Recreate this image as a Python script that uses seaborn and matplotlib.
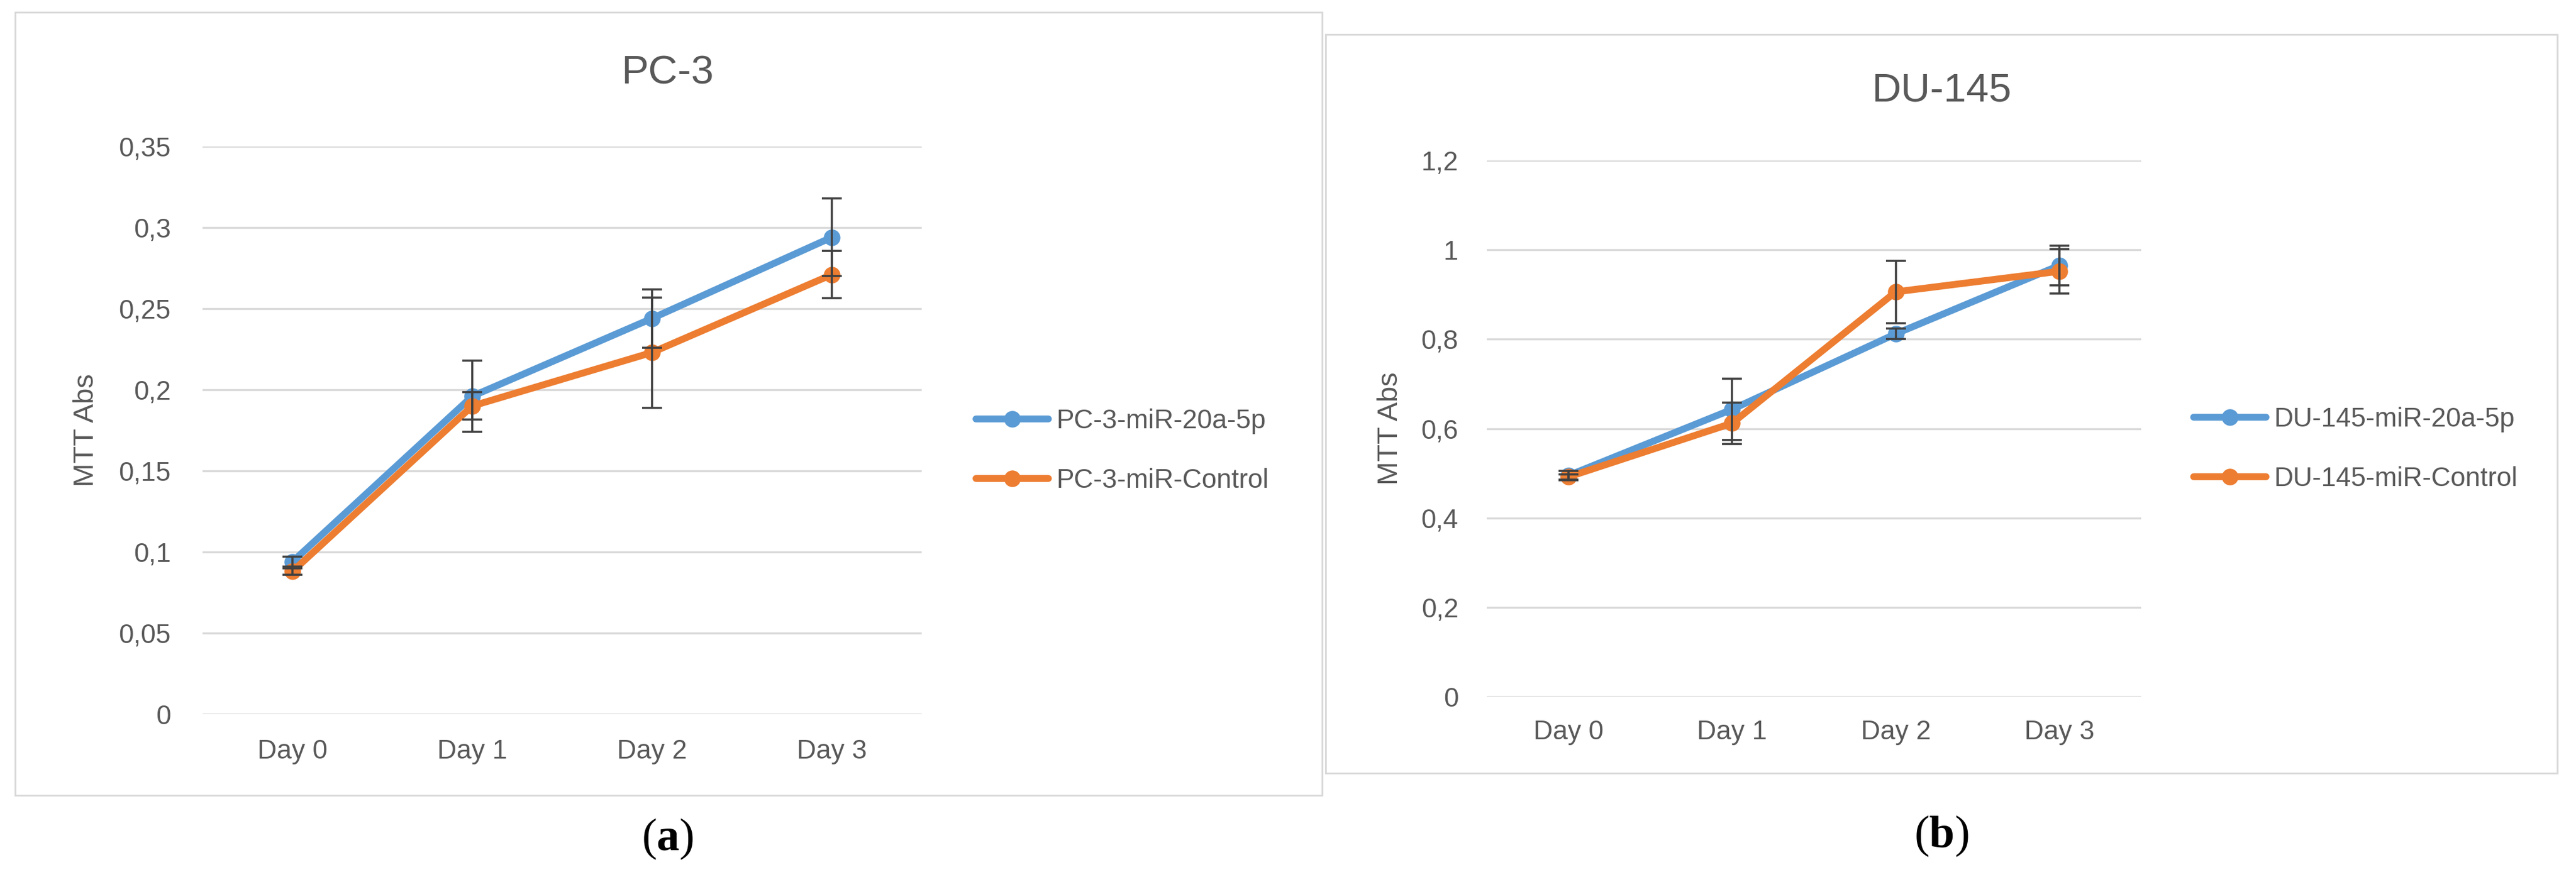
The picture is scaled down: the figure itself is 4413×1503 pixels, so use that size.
import numpy as np
import pandas as pd
import matplotlib
matplotlib.use("Agg")
import matplotlib.pyplot as plt
import seaborn as sns
from matplotlib.patches import Rectangle

# ---------------- data ----------------
days = ["Day 0", "Day 1", "Day 2", "Day 3"]

pc3_names = ["PC-3-miR-20a-5p", "PC-3-miR-Control"]
pc3_mir20a = [0.094, 0.196, 0.244, 0.294]
pc3_mir20a_err = [0.003, 0.022, 0.018, 0.024]
pc3_control = [0.088, 0.190, 0.223, 0.271]
pc3_control_err = [0.002, 0.0085, 0.034, 0.0145]

du_names = ["DU-145-miR-20a-5p", "DU-145-miR-Control"]
du145_mir20a = [0.495, 0.643, 0.812, 0.965]
du145_mir20a_err = [0.010, 0.068, 0.012, 0.044]
du145_control = [0.492, 0.612, 0.906, 0.952]
du145_control_err = [0.006, 0.046, 0.070, 0.050]

pc3_yticks = [0, 0.05, 0.10, 0.15, 0.20, 0.25, 0.30, 0.35]
pc3_yticklabels = ["0", "0,05", "0,1", "0,15", "0,2", "0,25", "0,3", "0,35"]
du_yticks = [0, 0.2, 0.4, 0.6, 0.8, 1.0, 1.2]
du_yticklabels = ["0", "0,2", "0,4", "0,6", "0,8", "1", "1,2"]

titles = ["PC-3", "DU-145"]
ylabel = "MTT Abs"
captions = ["a", "b"]

# ---------------- style ----------------
sns.set_theme(style="white")
plt.rcParams["font.family"] = ["Liberation Sans", "DejaVu Sans"]
plt.rcParams["mathtext.fontset"] = "custom"
plt.rcParams["mathtext.rm"] = "Liberation Serif"
plt.rcParams["mathtext.bf"] = "Liberation Serif:bold"

BLUE = "#5B9BD5"
ORANGE = "#ED7D31"
GRID = "#D9D9D9"
TXT = "#595959"
ERR = "#404040"

W, H = 4413, 1503
fig = plt.figure(figsize=(W / 100, H / 100), dpi=100)


def fx(px):
    return px / W


def fy(py):
    return (H - py) / H


def panel(rect, names, vals, errs, yticks, yticklabels, ymax, title, title_xy,
          ylab_x, legend_xy, ypad, xpad):
    ax = fig.add_axes(rect)
    colors = [BLUE, ORANGE]
    for name, v, e, c in zip(names, vals, errs, colors):
        df = pd.DataFrame({"day": days, "value": v})
        sns.lineplot(data=df, x="day", y="value", color=c, marker="o",
                     markersize=19, markeredgewidth=1.5, markeredgecolor=c,
                     linewidth=8.5, sort=False, label=name, ax=ax)
        ax.errorbar(days, v, yerr=e, fmt="none", ecolor=ERR, elinewidth=2.6,
                    capsize=12, capthick=2.6, label="_nolegend_", zorder=3)
    ax.set_xlim(-0.5, 3.5)
    ax.set_ylim(0, ymax)
    ax.set_yticks(yticks)
    ax.set_yticklabels(yticklabels)
    ax.grid(axis="y", color=GRID, linewidth=2.5)
    ax.grid(axis="x", visible=False)
    ax.set_axisbelow(True)
    for s in ax.spines.values():
        s.set_visible(False)
    ax.tick_params(axis="y", length=0, pad=ypad, labelsize=33, labelcolor=TXT)
    ax.tick_params(axis="x", length=0, pad=xpad, labelsize=33, labelcolor=TXT)
    ax.set_xlabel("")
    ax.set_ylabel(ylabel, fontsize=35, color=TXT)
    ax.yaxis.set_label_coords(ylab_x, 0.5)
    ax.yaxis.label.set_verticalalignment("center")
    ax.legend(loc="center left", bbox_to_anchor=legend_xy,
              bbox_transform=fig.transFigure, frameon=False, fontsize=33,
              labelcolor=TXT, handlelength=2.7, handletextpad=0.3,
              labelspacing=1.25, borderpad=0, borderaxespad=0)
    fig.text(title_xy[0], title_xy[1], title, ha="center", va="center",
             fontsize=50, color=TXT)
    return ax


# panel borders
fig.patches.append(Rectangle((fx(26), fy(1363)), fx(2265) - fx(26),
                             fy(21) - fy(1363), transform=fig.transFigure,
                             fill=False, edgecolor=GRID, linewidth=2.2))
fig.patches.append(Rectangle((fx(2271), fy(1325)), fx(4381) - fx(2271),
                             fy(59) - fy(1325), transform=fig.transFigure,
                             fill=False, edgecolor=GRID, linewidth=2.2))

panel([fx(347), fy(1224), fx(1579) - fx(347), fy(251) - fy(1224)],
      pc3_names, [pc3_mir20a, pc3_control], [pc3_mir20a_err, pc3_control_err],
      pc3_yticks, pc3_yticklabels, 0.35, titles[0], (fx(1144), fy(125)),
      -0.162, (fx(1672), fy(773)), 39, 30)

panel([fx(2547), fy(1194), fx(3668) - fx(2547), fy(275) - fy(1194)],
      du_names, [du145_mir20a, du145_control], [du145_mir20a_err, du145_control_err],
      du_yticks, du_yticklabels, 1.2, titles[1], (fx(3326), fy(155)),
      -0.148, (fx(3758), fy(770)), 35, 28)

fig.text(fx(1144), fy(1438), r"($\mathbf{%s}$)" % captions[0], ha="center",
         va="center", fontsize=56, color="black", family="Liberation Serif")
fig.text(fx(3326), fy(1433), r"($\mathbf{%s}$)" % captions[1], ha="center",
         va="center", fontsize=56, color="black", family="Liberation Serif")

fig.savefig("out.png", dpi=100, facecolor="white")
